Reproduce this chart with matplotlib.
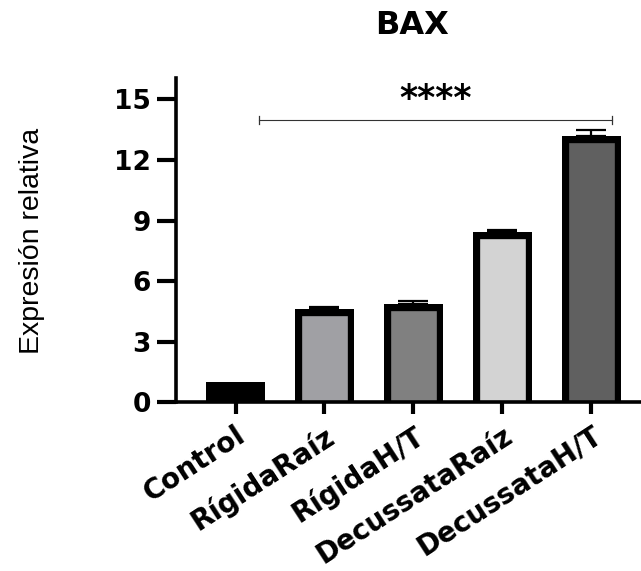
import matplotlib
matplotlib.use("Agg")
import matplotlib.pyplot as plt
import matplotlib.transforms as mtransforms
import numpy as np

categories = ["Control", "RígidaRaíz", "RígidaH/T", "DecussataRaíz", "DecussataH/T"]
values = [1.0, 4.61, 4.88, 8.44, 13.21]
errors = [0.0, 0.10, 0.14, 0.10, 0.28]
colors = ["#000000", "#a0a0a4", "#808080", "#d3d3d3", "#606060"]
yticks = [0, 3, 6, 9, 12, 15]
sig_y = 14.0
sig_text = "****"

plt.rcParams['font.family'] = ['DejaVu Sans']

fig = plt.figure(figsize=(6.41, 5.71), dpi=100)
ax = fig.add_axes([176 / 641, 0.2951, 1 - 176 / 641, 0.5683])

x = np.arange(len(categories))
base = 0.4  # bars start below the axis (clipped) so no bottom border shows
bars = ax.bar(x, np.array(values) + base, bottom=-base, width=0.665, color=colors,
              edgecolor="black", linewidth=9.6, zorder=2)
for p in bars:
    p.set_clip_path(p.get_path(), p.get_transform())

ax.errorbar(x[1:], values[1:], yerr=[np.zeros(len(x) - 1), errors[1:]], fmt="none",
            ecolor="black", elinewidth=1.6, capsize=10.8, capthick=1.6, zorder=3)

ax.set_xlim(-0.67, 4.56)
ax.set_ylim(0, 16.06)
ax.set_yticks(yticks)
ax.set_yticklabels([str(t) for t in yticks], fontsize=19, fontweight="bold")
ax.set_xticks(x)
ax.set_xticklabels(categories, fontsize=20, fontweight="bold", rotation=33,
                   ha="right", va="top", rotation_mode="anchor")
off = mtransforms.ScaledTranslation(-0.05, 0, fig.dpi_scale_trans)
for lab in ax.get_xticklabels():
    lab.set_transform(lab.get_transform() + off)
ax.tick_params(axis="x", width=3.0, length=8.6, pad=5)
ax.tick_params(axis="y", width=3.0, length=14, pad=4)

for s in ["top", "right"]:
    ax.spines[s].set_visible(False)
for s in ["left", "bottom"]:
    ax.spines[s].set_linewidth(2.6)
    ax.spines[s].set_zorder(4)

# significance bar
ax.plot([0.265, 4.23], [sig_y, sig_y], color="#333333", lw=0.8, clip_on=False)
for xe in [0.265, 4.23]:
    ax.plot([xe, xe], [sig_y - 0.2, sig_y + 0.2], color="#333333", lw=0.9, clip_on=False)
ax.text(2.25, 15.0, sig_text, ha="center", va="center", fontsize=25, fontweight="bold")

fig.text(0.642, 0.9545, "BAX", ha="center", va="center", fontsize=23, fontweight="bold")
fig.text(32 / 641, 1 - 240.5 / 571, "Expresión relativa", rotation=90, ha="center",
         va="center", fontsize=20.5, family=['Liberation Sans', 'DejaVu Sans'])

fig.savefig("out.png", dpi=100)
